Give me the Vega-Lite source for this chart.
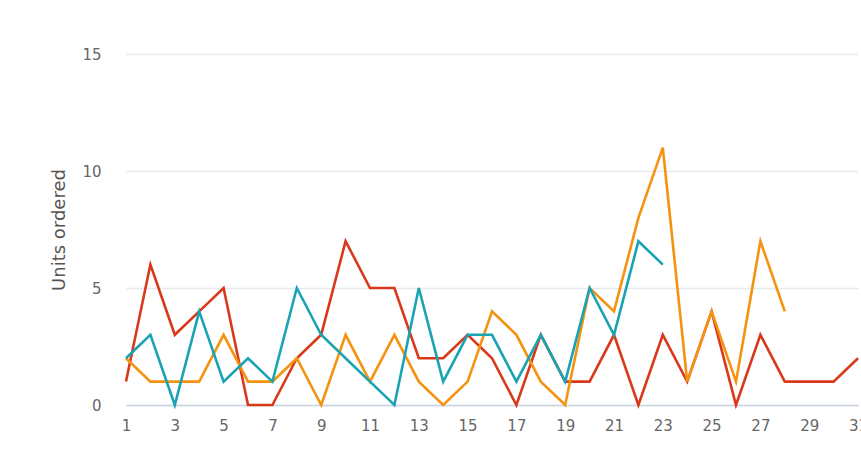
{
  "$schema": "https://vega.github.io/schema/vega-lite/v6.json",
  "autosize": "none",
  "width": 732,
  "height": 351,
  "padding": {"left": 126, "top": 54, "right": 3, "bottom": 60},
  "background": "#ffffff",
  "config": {
    "view": {"stroke": null},
    "font": "DejaVu Sans"
  },
  "data": {
    "values": [
      {"day":1,"series":"Series A","units":1},{"day":2,"series":"Series A","units":6},{"day":3,"series":"Series A","units":3},{"day":4,"series":"Series A","units":4},{"day":5,"series":"Series A","units":5},{"day":6,"series":"Series A","units":0},{"day":7,"series":"Series A","units":0},{"day":8,"series":"Series A","units":2},{"day":9,"series":"Series A","units":3},{"day":10,"series":"Series A","units":7},{"day":11,"series":"Series A","units":5},{"day":12,"series":"Series A","units":5},{"day":13,"series":"Series A","units":2},{"day":14,"series":"Series A","units":2},{"day":15,"series":"Series A","units":3},{"day":16,"series":"Series A","units":2},{"day":17,"series":"Series A","units":0},{"day":18,"series":"Series A","units":3},{"day":19,"series":"Series A","units":1},{"day":20,"series":"Series A","units":1},{"day":21,"series":"Series A","units":3},{"day":22,"series":"Series A","units":0},{"day":23,"series":"Series A","units":3},{"day":24,"series":"Series A","units":1},{"day":25,"series":"Series A","units":4},{"day":26,"series":"Series A","units":0},{"day":27,"series":"Series A","units":3},{"day":28,"series":"Series A","units":1},{"day":29,"series":"Series A","units":1},{"day":30,"series":"Series A","units":1},{"day":31,"series":"Series A","units":2},
      {"day":1,"series":"Series B","units":2},{"day":2,"series":"Series B","units":1},{"day":3,"series":"Series B","units":1},{"day":4,"series":"Series B","units":1},{"day":5,"series":"Series B","units":3},{"day":6,"series":"Series B","units":1},{"day":7,"series":"Series B","units":1},{"day":8,"series":"Series B","units":2},{"day":9,"series":"Series B","units":0},{"day":10,"series":"Series B","units":3},{"day":11,"series":"Series B","units":1},{"day":12,"series":"Series B","units":3},{"day":13,"series":"Series B","units":1},{"day":14,"series":"Series B","units":0},{"day":15,"series":"Series B","units":1},{"day":16,"series":"Series B","units":4},{"day":17,"series":"Series B","units":3},{"day":18,"series":"Series B","units":1},{"day":19,"series":"Series B","units":0},{"day":20,"series":"Series B","units":5},{"day":21,"series":"Series B","units":4},{"day":22,"series":"Series B","units":8},{"day":23,"series":"Series B","units":11},{"day":24,"series":"Series B","units":1},{"day":25,"series":"Series B","units":4},{"day":26,"series":"Series B","units":1},{"day":27,"series":"Series B","units":7},{"day":28,"series":"Series B","units":4},
      {"day":1,"series":"Series C","units":2},{"day":2,"series":"Series C","units":3},{"day":3,"series":"Series C","units":0},{"day":4,"series":"Series C","units":4},{"day":5,"series":"Series C","units":1},{"day":6,"series":"Series C","units":2},{"day":7,"series":"Series C","units":1},{"day":8,"series":"Series C","units":5},{"day":9,"series":"Series C","units":3},{"day":10,"series":"Series C","units":2},{"day":11,"series":"Series C","units":1},{"day":12,"series":"Series C","units":0},{"day":13,"series":"Series C","units":5},{"day":14,"series":"Series C","units":1},{"day":15,"series":"Series C","units":3},{"day":16,"series":"Series C","units":3},{"day":17,"series":"Series C","units":1},{"day":18,"series":"Series C","units":3},{"day":19,"series":"Series C","units":1},{"day":20,"series":"Series C","units":5},{"day":21,"series":"Series C","units":3},{"day":22,"series":"Series C","units":7},{"day":23,"series":"Series C","units":6}
    ]
  },
  "mark": {"type": "line", "strokeWidth": 2.6, "strokeJoin": "miter", "clip": false},
  "encoding": {
    "x": {
      "field": "day", "type": "quantitative",
      "scale": {"domain": [1, 31], "nice": false, "zero": false},
      "axis": {
        "values": [1,3,5,7,9,11,13,15,17,19,21,23,25,27,29,31],
        "title": null, "grid": false, "ticks": false,
        "domain": true, "domainColor": "#c9d4e3", "domainWidth": 1.5,
        "labelColor": "#666666", "labelFontSize": 15, "labelPadding": 13,
        "labelFlush": false, "labelOverlap": false
      }
    },
    "y": {
      "field": "units", "type": "quantitative",
      "scale": {"domain": [0, 15], "nice": false},
      "axis": {
        "values": [0, 5, 10, 15],
        "title": "Units ordered", "titleColor": "#555555", "titleFontSize": 18,
        "titleFontWeight": "normal", "titlePadding": 13,
        "grid": true, "gridColor": "#e6e9ee", "gridWidth": 1.5,
        "ticks": false, "domain": false,
        "labelColor": "#666666", "labelFontSize": 15, "labelPadding": 25
      }
    },
    "color": {
      "field": "series", "type": "nominal",
      "scale": {"domain": ["Series A", "Series B", "Series C"], "range": ["#d9391a", "#f5920f", "#1aa3b3"]},
      "legend": null
    }
  }
}
